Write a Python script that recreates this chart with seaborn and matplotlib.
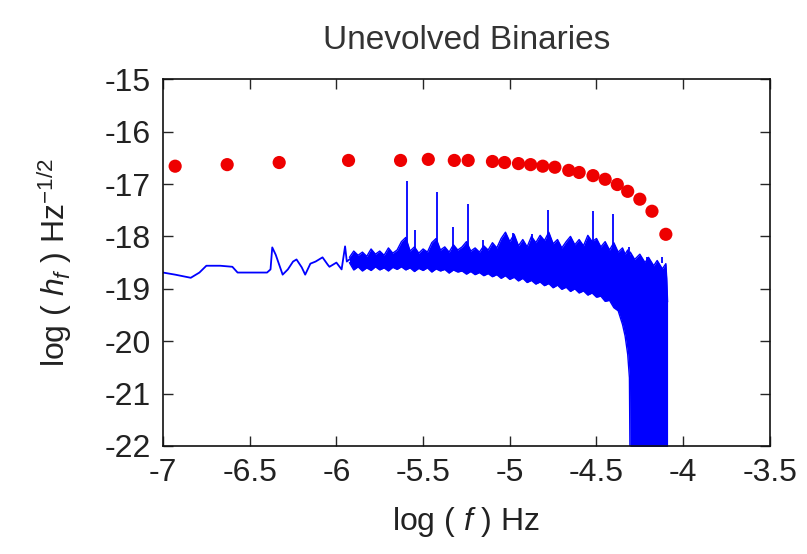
import matplotlib
matplotlib.use('Agg')
import matplotlib.pyplot as plt
import seaborn as sns
from matplotlib.ticker import FormatStrFormatter

# Red points: smoothed signal
dot_x = [-6.93, -6.63, -6.33, -5.93, -5.63, -5.47, -5.32, -5.24, -5.10, -5.03,
         -4.95, -4.88, -4.81, -4.74, -4.66, -4.60, -4.52, -4.45, -4.38, -4.32,
         -4.25, -4.18, -4.10]
dot_y = [-16.66, -16.63, -16.59, -16.55, -16.55, -16.53, -16.55, -16.55, -16.57, -16.59,
         -16.61, -16.63, -16.66, -16.68, -16.74, -16.78, -16.84, -16.91, -17.01, -17.14,
         -17.29, -17.52, -17.96]

# Blue spectrum, low-frequency part (single line)
line_x = [-7.00, -6.93, -6.84, -6.79, -6.75, -6.67, -6.60, -6.57, -6.40, -6.38,
          -6.37, -6.35, -6.33, -6.31, -6.28, -6.25, -6.23, -6.20, -6.18, -6.15,
          -6.12, -6.08, -6.05, -6.04, -6.00, -5.97, -5.95, -5.94, -5.91]
line_y = [-18.69, -18.73, -18.79, -18.69, -18.56, -18.56, -18.58, -18.69, -18.69, -18.63,
          -18.21, -18.35, -18.54, -18.73, -18.63, -18.48, -18.44, -18.59, -18.73, -18.52,
          -18.48, -18.40, -18.54, -18.58, -18.50, -18.63, -18.19, -18.48, -18.40]

# Blue spectrum, dense part (upper / lower envelope of the noise)
band_x = [-5.925, -5.90, -5.875, -5.85, -5.825, -5.80, -5.775, -5.75, -5.725, -5.70,
          -5.675, -5.65, -5.625, -5.60, -5.575, -5.55, -5.525, -5.50, -5.475, -5.45,
          -5.425, -5.40, -5.375, -5.35, -5.325, -5.30, -5.275, -5.25, -5.225, -5.20,
          -5.175, -5.15, -5.125, -5.10, -5.075, -5.05, -5.025, -5.00, -4.975, -4.95,
          -4.925, -4.90, -4.875, -4.85, -4.825, -4.80, -4.775, -4.75, -4.725, -4.70,
          -4.675, -4.65, -4.625, -4.60, -4.575, -4.55, -4.525, -4.50, -4.475, -4.45,
          -4.425, -4.40, -4.375, -4.35, -4.335, -4.32, -4.31, -4.305, -4.28, -4.25,
          -4.22, -4.20, -4.17, -4.15, -4.12, -4.10, -4.095, -4.09]
band_hi = [-18.40, -18.28, -18.36, -18.30, -18.38, -18.24, -18.34, -18.28, -18.36, -18.22,
           -18.32, -18.26, -18.10, -18.02, -18.28, -18.20, -18.32, -18.24, -18.30, -18.12,
           -18.04, -18.26, -18.20, -18.30, -18.16, -18.26, -18.20, -18.10, -18.28, -18.22,
           -18.30, -18.18, -18.26, -18.12, -18.22, -18.04, -17.92, -18.10, -17.96, -18.18,
           -18.06, -18.20, -18.00, -18.12, -17.98, -18.08, -17.92, -18.14, -18.06, -18.22,
           -18.10, -18.00, -18.16, -18.06, -18.18, -17.98, -18.10, -18.04, -18.20, -18.10,
           -18.26, -18.12, -18.30, -18.22, -18.34, -18.26, -18.36, -18.30, -18.44, -18.34,
           -18.50, -18.40, -18.56, -18.46, -18.62, -18.52, -18.80, -19.25]
band_lo = [-18.50, -18.64, -18.58, -18.66, -18.60, -18.65, -18.58, -18.64, -18.60, -18.66,
           -18.59, -18.63, -18.58, -18.64, -18.60, -18.67, -18.61, -18.65, -18.60, -18.68,
           -18.62, -18.66, -18.63, -18.70, -18.64, -18.68, -18.66, -18.72, -18.67, -18.73,
           -18.69, -18.75, -18.71, -18.77, -18.73, -18.80, -18.75, -18.82, -18.78, -18.85,
           -18.80, -18.88, -18.84, -18.91, -18.87, -18.94, -18.90, -18.98, -18.93, -19.01,
           -18.97, -19.05, -19.00, -19.08, -19.04, -19.12, -19.08, -19.16, -19.14, -19.24,
           -19.22, -19.36, -19.42, -19.68, -19.90, -20.25, -20.70, -23.0, -23.0, -23.0,
           -23.0, -23.0, -23.0, -23.0, -23.0, -23.0, -23.0, -23.0]

# narrow spectral lines
spike_x = [-5.593, -5.547, -5.42, -5.33, -5.241, -5.155, -4.98, -4.87, -4.78, -4.52,
           -4.405, -4.31, -4.21, -4.12]
spike_top = [-16.95, -17.87, -17.16, -17.83, -17.39, -18.06, -17.93, -17.96, -17.49, -17.52,
             -17.58, -18.21, -18.50, -18.50]

sns.set_style('ticks')
plt.rcParams['font.family'] = ['Liberation Sans', 'DejaVu Sans']
plt.rcParams['mathtext.fontset'] = 'custom'
plt.rcParams['mathtext.rm'] = 'Liberation Sans'
plt.rcParams['mathtext.it'] = 'Liberation Sans:italic'
plt.rcParams['axes.unicode_minus'] = False

BLUE = '#0000ff'
TXT = '#222222'

fig = plt.figure(figsize=(8.07, 5.54), dpi=100)
ax = fig.add_axes([0.202, 0.195, 0.752, 0.662])

ax.fill_between(band_x, band_lo, band_hi, color=BLUE, linewidth=0)
ax.plot(band_x, band_hi, color=BLUE, lw=1)
ax.plot(band_x, band_lo, color=BLUE, lw=1)
ax.vlines(spike_x, -18.4, spike_top, color=BLUE, lw=1.3)
sns.lineplot(x=line_x, y=line_y, ax=ax, color=BLUE, lw=1.3, sort=False, estimator=None)
sns.scatterplot(x=dot_x, y=dot_y, ax=ax, color='#ee0000', s=90, edgecolor='none', zorder=5)

ax.set_xlim(-7, -3.5)
ax.set_ylim(-22, -15)
ax.set_xticks([-7, -6.5, -6, -5.5, -5, -4.5, -4, -3.5])
ax.set_yticks(range(-22, -14))
ax.xaxis.set_major_formatter(FormatStrFormatter('%g'))
ax.yaxis.set_major_formatter(FormatStrFormatter('%g'))
ax.tick_params(direction='in', top=True, right=True, length=7, width=1,
               labelsize=23, labelcolor=TXT, pad=9)
for s in ax.spines.values():
    s.set_linewidth(1.2)
    s.set_color('#111111')

ax.set_title('Unevolved Binaries', fontsize=24, color='#333333', pad=22)
ax.set_xlabel(r'log ( $f$ ) Hz', fontsize=23, color=TXT, labelpad=12)
ax.set_ylabel(r'log ( $h_f$ ) Hz$^{-1/2}$', fontsize=23, color=TXT, labelpad=22)

fig.savefig('out.png', dpi=100)
